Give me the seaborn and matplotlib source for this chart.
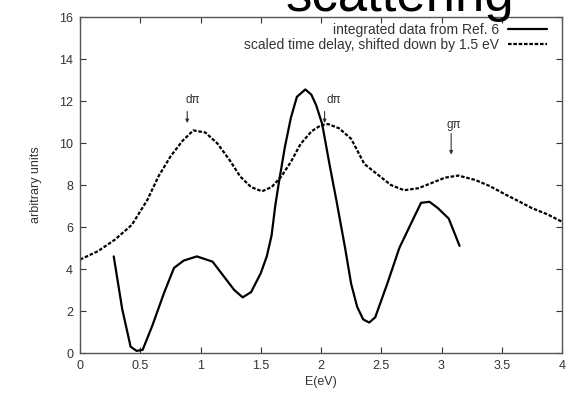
import matplotlib
matplotlib.use("Agg")
import matplotlib.pyplot as plt
import seaborn as sns
import pandas as pd

# Data
solid_x = [0.28, 0.35, 0.42, 0.47, 0.52, 0.60, 0.70, 0.78, 0.86, 0.97, 1.10, 1.20, 1.28, 1.35,
           1.42, 1.50, 1.55, 1.59, 1.62, 1.65, 1.70, 1.75, 1.80, 1.87, 1.92, 1.96, 2.01, 2.07,
           2.13, 2.20, 2.25, 2.30, 2.35, 2.40, 2.45, 2.55, 2.65, 2.75, 2.83, 2.90, 2.97, 3.06, 3.15]
solid_y = [4.6, 2.1, 0.3, 0.1, 0.15, 1.3, 2.9, 4.05, 4.4, 4.6, 4.35, 3.6, 3.0, 2.65,
           2.9, 3.8, 4.6, 5.6, 7.0, 8.1, 9.8, 11.2, 12.2, 12.55, 12.3, 11.8, 10.9, 9.0,
           7.2, 5.0, 3.3, 2.2, 1.6, 1.45, 1.7, 3.3, 5.0, 6.2, 7.15, 7.2, 6.9, 6.4, 5.1]

dash_x = [0.0, 0.15, 0.29, 0.43, 0.56, 0.65, 0.75, 0.85, 0.94, 1.04, 1.14, 1.24, 1.33, 1.42,
          1.51, 1.59, 1.67, 1.75, 1.83, 1.92, 2.00, 2.06, 2.15, 2.25, 2.36, 2.47, 2.58, 2.69,
          2.81, 2.92, 3.03, 3.14, 3.28, 3.40, 3.53, 3.65, 3.75, 3.88, 4.00]
dash_y = [4.45, 4.85, 5.4, 6.1, 7.3, 8.4, 9.35, 10.1, 10.6, 10.5, 9.98, 9.2, 8.4, 7.9,
          7.7, 7.9, 8.4, 9.1, 9.95, 10.55, 10.85, 10.9, 10.7, 10.2, 9.0, 8.5, 8.0, 7.75,
          7.85, 8.1, 8.35, 8.45, 8.24, 7.95, 7.55, 7.2, 6.9, 6.6, 6.25]

series_labels = ["integrated data from Ref. 6", "scaled time delay, shifted down by 1.5 eV"]
x_ticks = [0, 0.5, 1, 1.5, 2, 2.5, 3, 3.5, 4]
x_tick_labels = ["0", "0.5", "1", "1.5", "2", "2.5", "3", "3.5", "4"]
y_ticks = [0, 2, 4, 6, 8, 10, 12, 14, 16]

ann_labels = ["dπ", "dπ", "gπ"]
ann_text_x = [0.94, 2.11, 3.10]
ann_text_y = [11.75, 11.75, 10.55]
ann_arrow_x = [0.89, 2.03, 3.08]
ann_arrow_top = [11.5, 11.5, 10.45]
ann_arrow_tip = [10.95, 10.95, 9.45]

sns.set_style("ticks")
plt.rcParams["font.family"] = ["Liberation Sans", "DejaVu Sans"]

fig = plt.figure(figsize=(5.68, 3.97), dpi=100)
ax = fig.add_axes([80 / 568, 44 / 397, 482 / 568, 336 / 397])

df_solid = pd.DataFrame({"x": solid_x, "y": solid_y})
df_dash = pd.DataFrame({"x": dash_x, "y": dash_y})

sns.lineplot(data=df_solid, x="x", y="y", ax=ax, color="black", lw=1.6,
             label=series_labels[0], sort=False)
sns.lineplot(data=df_dash, x="x", y="y", ax=ax, color="black", lw=1.6,
             linestyle=(0, (1.6, 0.8)), label=series_labels[1], sort=False)

ax.set_xlim(0, 4)
ax.set_ylim(0, 16)
ax.set_xticks(x_ticks)
ax.set_xticklabels(x_tick_labels)
ax.set_yticks(y_ticks)
ax.tick_params(direction="in", top=True, right=True, length=4, width=0.8,
               labelsize=9, colors="#333333", pad=5)
for s in ax.spines.values():
    s.set_color("#555555")
    s.set_linewidth(1.0)
ax.set_xlabel("E(eV)", fontsize=9, color="#333333", labelpad=3)
ax.set_ylabel("arbitrary units", fontsize=9, color="#333333", labelpad=12)

leg = ax.legend(loc="upper right", frameon=False, fontsize=10, markerfirst=False,
                handlelength=2.8, handletextpad=0.65, borderaxespad=0, borderpad=0,
                labelspacing=0.05,
                bbox_to_anchor=(547 / 568, 1 - 23 / 397), bbox_transform=fig.transFigure)
for t in leg.get_texts():
    t.set_color("#333333")

for lab, tx, ty in zip(ann_labels, ann_text_x, ann_text_y):
    ax.text(tx, ty, lab, ha="center", va="bottom", fontsize=8.5, color="#333333")
for axx, top, tip in zip(ann_arrow_x, ann_arrow_top, ann_arrow_tip):
    ax.annotate("", xy=(axx, tip), xytext=(axx, top),
                arrowprops=dict(arrowstyle="-|>", color="#333333", lw=0.8,
                                mutation_scale=5, shrinkA=0, shrinkB=0))

fig.text(0.703, 1 - 11 / 397, "scattering", fontsize=38, ha="center", va="baseline",
         color="black")

fig.savefig("out.png", dpi=100)
